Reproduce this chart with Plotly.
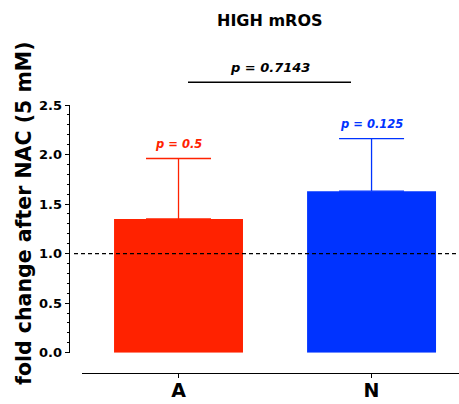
import plotly.graph_objects as go

# ---- data ----
categories = ["A", "N"]
means = [1.35, 1.63]
errors_up = [0.61, 0.53]
bar_colors = ["#FF2200", "#0033FF"]
group_pvalues = ["p = 0.5", "p = 0.125"]
compare_pvalue = "p = 0.7143"
y_ticks = [0.0, 0.5, 1.0, 1.5, 2.0, 2.5]
reference_level = 1.0

W, H = 459, 404
def px_x(p):
    return p / W
def px_y(p):
    return 1 - p / H

FONT = "DejaVu Sans"
xpos = list(range(len(categories)))

fig = go.Figure()
for i, c in enumerate(categories):
    fig.add_trace(go.Bar(
        x=[xpos[i]], y=[means[i]], width=0.668,
        marker=dict(color=bar_colors[i], line=dict(width=0)),
        error_y=dict(type="data", symmetric=False, array=[errors_up[i]],
                     arrayminus=[0], color=bar_colors[i], thickness=1.3, width=32.5),
        showlegend=False, hoverinfo="skip", name=c,
    ))

# dashed reference line at 1.0
fig.add_shape(type="line", xref="paper", yref="y",
              x0=px_x(74), x1=1.0, y0=reference_level, y1=reference_level,
              line=dict(color="black", width=1.3, dash="4px,3px"))

# group p-values above error caps
for i, c in enumerate(categories):
    fig.add_annotation(x=xpos[i], y=means[i] + errors_up[i], xref="x", yref="y",
                       text=group_pvalues[i], showarrow=False, yanchor="middle",
                       yshift=15,
                       font=dict(family=FONT, size=11.5, color=bar_colors[i],
                                 weight="bold", style="italic"))

# comparison bracket
fig.add_shape(type="line", xref="paper", yref="paper",
              x0=px_x(188), x1=px_x(351), y0=px_y(82.3), y1=px_y(82.3),
              line=dict(color="black", width=1.6))
fig.add_annotation(x=px_x(269.5), y=px_y(67), xref="paper", yref="paper",
                   text=compare_pvalue, showarrow=False, yanchor="middle",
                   font=dict(family=FONT, size=13, color="black",
                             weight="bold", style="italic"))

# title
fig.add_annotation(x=px_x(269.5), y=px_y(20), xref="paper", yref="paper",
                   text="HIGH mROS", showarrow=False, yanchor="middle",
                   font=dict(family=FONT, size=16, color="black", weight="bold"))

# y-axis label
fig.add_annotation(x=px_x(24), y=px_y(213), xref="paper", yref="paper",
                   text="fold change after NAC (5 mM)", showarrow=False,
                   textangle=-90, xanchor="center", yanchor="middle",
                   font=dict(family=FONT, size=20.5, color="black", weight="bold"))

fig.update_layout(
    width=W, height=H,
    margin=dict(l=0, r=0, t=0, b=0, pad=0),
    paper_bgcolor="white", plot_bgcolor="white",
    barmode="overlay",
    xaxis=dict(
        domain=[px_x(82), 1.0], range=[-0.5, 1.453],
        anchor="free", position=px_y(372.7), automargin=False,
        tickvals=xpos, ticktext=categories,
        showline=True, linecolor="black", linewidth=1.3,
        ticks="outside", ticklen=4, tickwidth=1.3, tickcolor="black",
        ticklabelstandoff=-4,
        showgrid=False, zeroline=False,
        tickfont=dict(family=FONT, size=19, color="black", weight="bold"),
    ),
    yaxis=dict(
        domain=[px_y(352.7), px_y(105)], range=[0, 2.5],
        anchor="free", position=px_x(69.3), automargin=False,
        tickvals=y_ticks, tickformat=".1f",
        showline=True, linecolor="black", linewidth=1.3,
        ticks="outside", ticklen=4.5, tickwidth=1.3, tickcolor="black",
        minor=dict(dtick=0.1, ticks="outside", ticklen=2.5, tickwidth=1,
                   tickcolor="black"),
        showgrid=False, zeroline=False,
        tickfont=dict(family=FONT, size=13, color="black", weight="bold"),
    ),
)

fig.write_html("out.html")
